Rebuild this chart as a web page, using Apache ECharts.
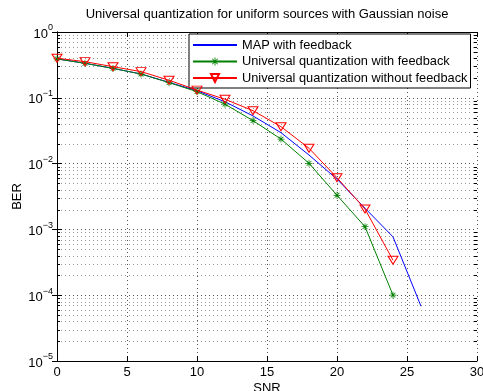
<!DOCTYPE html>
<html>
<head>
<meta charset="utf-8">
<script src="https://cdn.jsdelivr.net/npm/echarts@6/dist/echarts.min.js"></script>
<style>
  html, body { margin: 0; padding: 0; background: #fff; }
  #chartWrap { width: 483px; height: 391px; }
</style>
</head>
<body>
<div id="chartWrap"></div>
<script>
var FONT = 'Liberation Sans, Arial, Helvetica, sans-serif';

// data
var snr = [0, 2, 4, 6, 8, 10, 12, 14, 16, 18, 20, 22, 24, 26];
var berMapFeedback = [0.39, 0.335, 0.28, 0.23, 0.172, 0.128, 0.087, 0.053, 0.0295, 0.0135, 0.0058, 0.0021, 0.00077, 0.000068];
var berUqFeedback = [0.39, 0.334, 0.28, 0.23, 0.17, 0.124, 0.08, 0.045, 0.0236, 0.0101, 0.0033, 0.0011, 0.0001];
var berUqNoFeedback = [0.40, 0.354, 0.297, 0.25, 0.185, 0.131, 0.095, 0.0637, 0.0364, 0.0171, 0.0061, 0.00204, 0.00034];
var seriesNames = ['MAP with feedback', 'Universal quantization with feedback', 'Universal quantization without feedback'];

// minor log grid values 2..9 x 10^k
var minorVals = [];
for (var k = -5; k < 0; k++) {
  for (var m = 2; m <= 9; m++) {
    minorVals.push([0, m * Math.pow(10, k)]);
  }
}

function pairs(xs, ys) {
  var out = [];
  for (var i = 0; i < ys.length; i++) {
    out.push([xs[i], ys[i]]);
  }
  return out;
}

function logLabel(v) {
  var e = Math.round(Math.log(v) / Math.LN10);
  return '{b|10}{s|' + (e < 0 ? '\u2212' + (-e) : e) + '}';
}

var ASTERISK = 'path://M4.45 0H5.55V10H4.45Z M0 4.45H10V5.55H0Z M1.2 2L2 1.2L8.8 8L8 8.8Z M8 1.2L8.8 2L2 8.8L1.2 8Z';

var myChart = echarts.init(document.getElementById('chartWrap'));

var option = {
  animation: false,
  textStyle: { fontFamily: FONT },
  title: {
    text: 'Universal quantization for uniform sources with Gaussian noise',
    left: 267,
    top: 8,
    padding: 0,
    textAlign: 'center',
    textStyle: { fontSize: 13, fontWeight: 'normal', color: '#000', fontFamily: FONT }
  },
  grid: { left: 57, right: 6, top: 32, bottom: 30, containLabel: false, outerBoundsMode: 'none' },
  legend: {
    data: [
      { name: seriesNames[0], itemStyle: { opacity: 0 } },
      { name: seriesNames[1] },
      { name: seriesNames[2] }
    ],
    orient: 'vertical',
    left: 189,
    top: 34,
    itemWidth: 44,
    itemHeight: 10,
    itemGap: 2.5,
    padding: [4, 3, 3, 3],
    backgroundColor: '#fff',
    borderColor: '#000',
    borderWidth: 1,
    borderRadius: 0,
    textStyle: { fontSize: 12.8, lineHeight: 14, color: '#000', fontFamily: FONT }
  },
  xAxis: [{
    type: 'value',
    min: 0,
    max: 30,
    interval: 5,
    name: 'SNR',
    nameLocation: 'middle',
    nameGap: 21,
    nameMoveOverlap: false,
    nameTextStyle: { fontSize: 13, color: '#000' },
    axisLine: { lineStyle: { color: '#000', width: 1 } },
    axisTick: { inside: true, length: 5, lineStyle: { color: '#000' } },
    axisLabel: { fontSize: 13, color: '#000', margin: 5 },
    splitLine: { show: true, lineStyle: { color: '#555', type: [1, 3] } }
  }, {
    type: 'value',
    position: 'top',
    min: 0,
    max: 30,
    interval: 5,
    axisLine: { lineStyle: { color: '#000', width: 1 } },
    axisTick: { inside: true, length: 5, lineStyle: { color: '#000' } },
    axisLabel: { show: false },
    splitLine: { show: false }
  }],
  yAxis: [{
    type: 'log',
    logBase: 10,
    min: 1e-5,
    max: 1,
    name: 'BER',
    nameLocation: 'middle',
    nameGap: 33,
    nameMoveOverlap: false,
    nameTextStyle: { fontSize: 13, color: '#000' },
    axisLine: { show: true, lineStyle: { color: '#000', width: 1 } },
    axisTick: { inside: true, length: 5, lineStyle: { color: '#000' } },
    axisLabel: {
      margin: 4,
      formatter: logLabel,
      rich: {
        b: { fontSize: 13, color: '#000', fontFamily: FONT, padding: [4, 0, 0, 0] },
        s: { fontSize: 9, color: '#000', fontFamily: FONT, padding: [0, 0, 8, 0] }
      }
    },
    splitLine: { show: true, lineStyle: { color: '#555', type: [1, 3] } }
  }, {
    type: 'log',
    logBase: 10,
    min: 1e-5,
    max: 1,
    position: 'right',
    axisLine: { show: true, lineStyle: { color: '#000', width: 1 } },
    axisTick: { inside: true, length: 5, lineStyle: { color: '#000' } },
    axisLabel: { show: false },
    splitLine: { show: false }
  }],
  series: [{
    type: 'custom',
    silent: true,
    z: 0,
    data: minorVals,
    renderItem: function(params, api) {
      var v = api.value(1);
      var p0 = api.coord([0, v]);
      var p1 = api.coord([30, v]);
      var y = Math.round(p0[1]) + 0.5;
      return {
        type: 'group',
        children: [
          { type: 'line', shape: { x1: p0[0], y1: y, x2: p1[0], y2: y }, style: { stroke: '#999', lineDash: [1, 3], lineWidth: 1 } },
          { type: 'line', shape: { x1: p0[0], y1: y, x2: p0[0] + 3, y2: y }, style: { stroke: '#000', lineWidth: 1 } },
          { type: 'line', shape: { x1: p1[0] - 3, y1: y, x2: p1[0], y2: y }, style: { stroke: '#000', lineWidth: 1 } }
        ]
      };
    }
  }, {
    name: seriesNames[0],
    type: 'line',
    data: pairs(snr, berMapFeedback),
    showSymbol: false,
    symbol: 'none',
    color: '#0000ff',
    lineStyle: { color: '#0000ff', width: 1 },
    z: 3
  }, {
    name: seriesNames[1],
    type: 'line',
    data: pairs(snr, berUqFeedback),
    symbol: ASTERISK,
    symbolSize: 7,
    color: '#008000',
    itemStyle: { color: '#008000' },
    lineStyle: { color: '#008000', width: 1 },
    z: 4
  }, {
    name: seriesNames[2],
    type: 'line',
    data: pairs(snr, berUqNoFeedback),
    symbol: 'triangle',
    symbolRotate: 180,
    symbolSize: [10, 8],
    color: '#ff0000',
    itemStyle: { color: 'rgba(0,0,0,0)', borderColor: '#ff0000', borderWidth: 1 },
    lineStyle: { color: '#ff0000', width: 1 },
    z: 5
  }]
};

myChart.setOption(option);
</script>
</body>
</html>
